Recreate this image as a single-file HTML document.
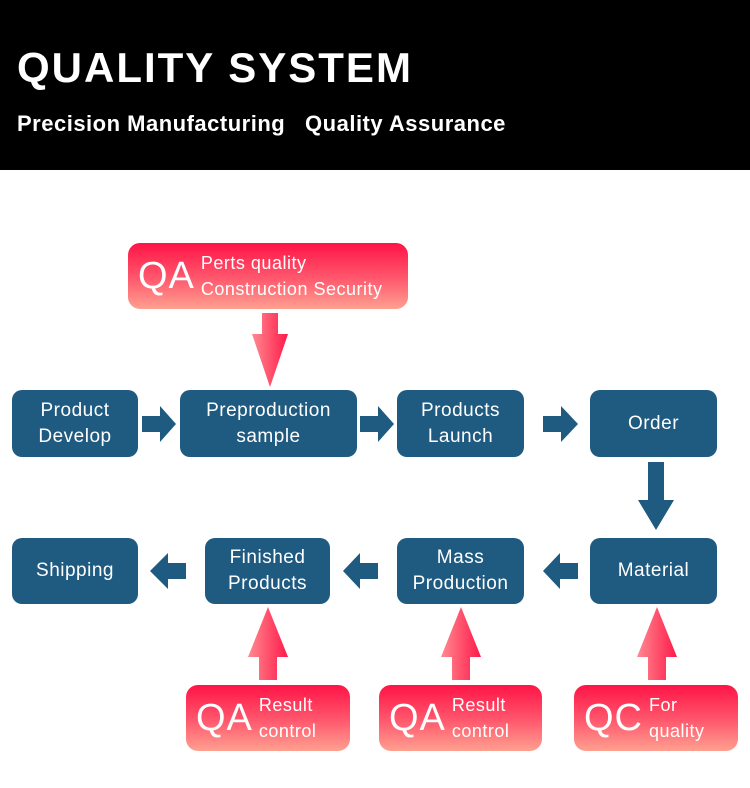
<!DOCTYPE html><html><head><style>
body{margin:0;width:750px;height:788px;background:#fff;font-family:"Liberation Sans","DejaVu Sans",sans-serif;position:relative;overflow:hidden}
.hd{position:absolute;left:0;top:0;width:750px;height:170px;background:#000;color:#fff}
.b{position:absolute;background:#1f5a80;border-radius:10px;color:#fff;font-size:19px;line-height:26px;text-align:center;display:flex;align-items:center;justify-content:center;letter-spacing:0.5px}
.r{position:absolute;border-radius:12px;background:linear-gradient(#ff1446,#ff5a6e 55%,#ffa090);color:#fff;display:flex;align-items:center}
.r .big{font-size:38px;margin-left:10px;margin-right:6px;letter-spacing:1px}
.r .sm{font-size:18px;line-height:26px;letter-spacing:0.5px}
svg{position:absolute;left:0;top:0}
</style></head><body>
<div class="hd">
<div style="position:absolute;left:17px;top:44px;font-size:42px;font-weight:bold;letter-spacing:2px">QUALITY SYSTEM</div>
<div style="position:absolute;left:17px;top:111px;font-size:22px;font-weight:bold;letter-spacing:0.5px">Precision Manufacturing&nbsp;&nbsp;&nbsp;Quality Assurance</div>
</div>
<svg width="750" height="788">
<defs><linearGradient id="g" x1="0" x2="1"><stop offset="0" stop-color="#ff8a90"/><stop offset="1" stop-color="#ff1a4a"/></linearGradient>
<linearGradient id="gu" x1="0" x2="1"><stop offset="0" stop-color="#ff8a90"/><stop offset="1" stop-color="#ff1a4a"/></linearGradient></defs>
<g fill="#1f5a80">
<polygon points="142,416 160,416 160,406 176,424 160,442 160,432 142,432"/>
<polygon points="360,416 378,416 378,406 394,424 378,442 378,432 360,432"/>
<polygon points="543,416 561,416 561,406 578,424 561,442 561,432 543,432"/>
<polygon points="648,462 664,462 664,500 674,500 656,530 638,500 648,500"/>
<polygon points="186,563 168,563 168,553 150,571 168,589 168,579 186,579"/>
<polygon points="378,563 360,563 360,553 343,571 360,589 360,579 378,579"/>
<polygon points="578,563 560,563 560,553 543,571 560,589 560,579 578,579"/>
</g>
<polygon fill="url(#g)" points="262,313 278,313 278,334 288,334 270,387 252,334 262,334"/>
<polygon fill="url(#gu)" points="259,680 277,680 277,657 288,657 268,607 248,657 259,657"/>
<polygon fill="url(#gu)" points="452,680 470,680 470,657 481,657 461,607 441,657 452,657"/>
<polygon fill="url(#gu)" points="648,680 666,680 666,657 677,657 657,607 637,657 648,657"/>
</svg>
<div class="r" style="left:128px;top:243px;width:280px;height:66px"><span class="big">QA</span><span class="sm">Perts quality<br>Construction Security</span></div>
<div class="b" style="left:12px;top:390px;width:126px;height:67px">Product<br>Develop</div>
<div class="b" style="left:180px;top:390px;width:177px;height:67px">Preproduction<br>sample</div>
<div class="b" style="left:397px;top:390px;width:127px;height:67px">Products<br>Launch</div>
<div class="b" style="left:590px;top:390px;width:127px;height:67px">Order</div>
<div class="b" style="left:12px;top:538px;width:126px;height:66px">Shipping</div>
<div class="b" style="left:205px;top:538px;width:125px;height:66px">Finished<br>Products</div>
<div class="b" style="left:397px;top:538px;width:127px;height:66px">Mass<br>Production</div>
<div class="b" style="left:590px;top:538px;width:127px;height:66px">Material</div>
<div class="r" style="left:186px;top:685px;width:164px;height:66px"><span class="big">QA</span><span class="sm">Result<br>control</span></div>
<div class="r" style="left:379px;top:685px;width:163px;height:66px"><span class="big">QA</span><span class="sm">Result<br>control</span></div>
<div class="r" style="left:574px;top:685px;width:164px;height:66px"><span class="big">QC</span><span class="sm">For<br>quality</span></div>
</body></html>
